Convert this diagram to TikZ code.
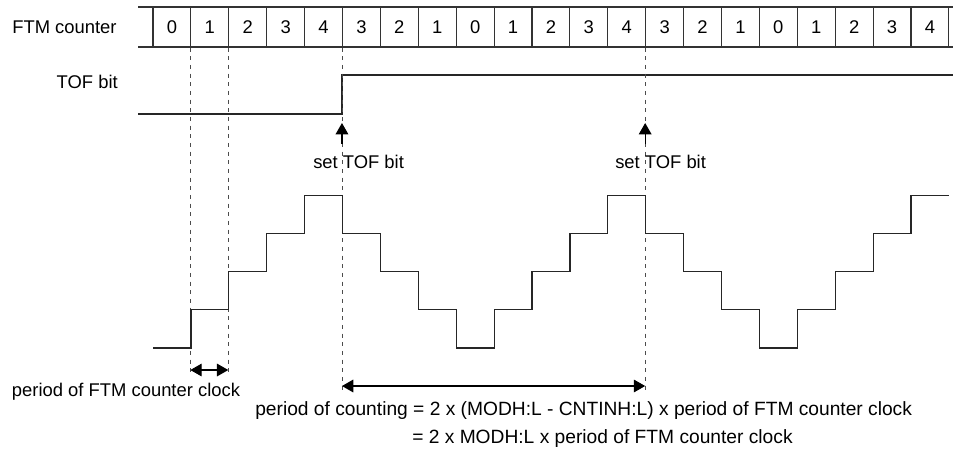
\documentclass[tikz,border=0pt]{standalone}
\usepackage{fontspec}
\setmainfont{Liberation Sans}
\usetikzlibrary{positioning,arrows.meta}
\tikzset{
  cell/.style     = {draw=black!80, line width=0.8pt, minimum width=28.43pt, minimum height=30pt, inner sep=0pt},
  rowline/.style  = {draw=black!80, line width=0.8pt},
  lbl/.style      = {inner sep=0pt},
  big/.style      = {inner sep=0pt, font=\fontsize{14.4}{17}\selectfont},
  wave/.style     = {draw=black!85, line width=0.9pt},
  guide/.style    = {draw=black!70, line width=0.7pt, dash pattern=on 3pt off 3.5pt},
  dim/.style      = {{Triangle[length=8.5pt,width=9.5pt]}-{Triangle[length=8.5pt,width=9.5pt]}, draw=black, line width=0.8pt},
  pointer/.style  = {-{Triangle[length=8.5pt,width=9.5pt]}, draw=black, line width=0.8pt},
}

\begin{document}
\begin{tikzpicture}[x=0.75pt,y=-0.75pt,font=\fontsize{13.8}{16}\selectfont]
  \useasboundingbox (0,0) rectangle (953,451);

  % counter row
  \node[lbl, anchor=west] (cntlbl) at (12,27) {FTM counter};
  \draw[rowline] (138,7) -- (953,7);
  \draw[rowline] (138,47) -- (953,47);
  \foreach \v [count=\i from 0] in {0,1,2,3,4,3,2,1,0,1,2,3,4,3,2,1,0,1,2,3,4} {
    \node[cell] (c\i) at ({153+(\i+0.5)*37.9},27) {\v};
  }

  % TOF bit
  \node[lbl, anchor=east] (toflbl) at (118,82) {TOF bit};
  \draw[wave] (138,114) -- (c5.south west |- 0,114) -- (c5.south west |- 0,75) -- (953,75);

  % guides
  \coordinate (g1) at (c1.south west |- 0,374);
  \coordinate (g2) at (c2.south west |- 0,374);
  \coordinate (g3) at (c5.south west |- 0,390);
  \coordinate (g4) at (c13.south west |- 0,390);
  \draw[guide] (c1.south west) -- (g1);
  \draw[guide] (c2.south west) -- (g2);
  \draw[guide] (c5.south west) -- (g3);
  \draw[guide] (c13.south west) -- (g4);

  % set TOF bit
  \coordinate (s1) at (c5.south west |- 0,144);
  \coordinate (t1) at (c5.south west |- 0,123);
  \coordinate (s2) at (c13.south west |- 0,144);
  \coordinate (t2) at (c13.south west |- 0,123);
  \draw[pointer] (s1) -- (t1);
  \draw[pointer] (s2) -- (t2);
  \node[lbl, anchor=west] (set1) at (313,162) {set TOF bit};
  \node[lbl, anchor=west] (set2) at (615,162) {set TOF bit};

  % counter waveform
  \draw[wave] (153,348)
    foreach \v [count=\i from 0] in {0,1,2,3,4,3,2,1,0,1,2,3,4,3,2,1,0,1,2,3,4} {
      -- ({153+\i*37.9},{348-38.2*\v}) -- ({153+(\i+1)*37.9},{348-38.2*\v})
    };

  % periods
  \coordinate (p1) at (c1.south west |- 0,370);
  \coordinate (p2) at (c2.south west |- 0,370);
  \draw[dim] (p1) -- (p2);
  \node[lbl] (clklbl) at (126,392) {period of FTM counter clock};
  \coordinate (q1) at (c5.south west |- 0,386);
  \coordinate (q2) at (c13.south west |- 0,386);
  \draw[dim] (q1) -- (q2);
  \node[big, anchor=west] (cnt1) at (255,411) {period of counting = 2 x (MODH:L - CNTINH:L) x period of FTM counter clock};
  \node[big, anchor=west] (cnt2) at (412,439) {= 2 x MODH:L x period of FTM counter clock};
\end{tikzpicture}
\end{document}
